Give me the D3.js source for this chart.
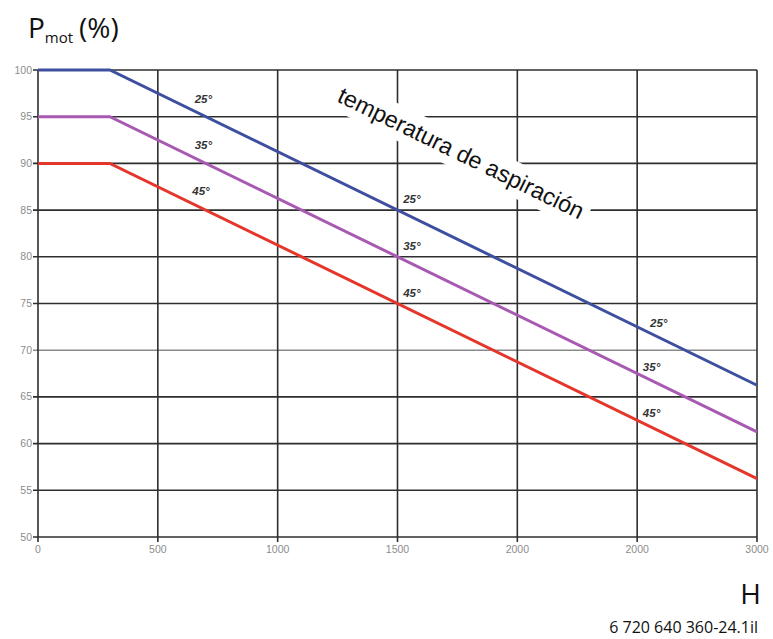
<!DOCTYPE html>
<html><head><meta charset="utf-8">
<script src="https://cdn.jsdelivr.net/npm/d3@7"></script>
<style>body{margin:0;background:#fff}svg{display:block}</style>
</head><body><svg id="c" width="773" height="639"></svg>
<script>
const altitudes = [0, 300, 3000];
const temp25 = [100, 100, 66.25];
const temp35 = [95, 95, 61.25];
const temp45 = [90, 90, 56.25];
const seriesNames = ["25°", "35°", "45°"];
const seriesColors = ["#3f4f9f", "#a85ab3", "#e5362b"];
const xTicks = [0, 500, 1000, 1500, 2000, 2500, 3000];
const xTickLabels = ["0", "500", "1000", "1500", "2000", "2000", "3000"];
const yTicks = [50, 55, 60, 65, 70, 75, 80, 85, 90, 95, 100];
const labelAltitudes = [[690, 1560, 2590], [690, 1560, 2560], [680, 1560, 2560]];

const svg = d3.select("#c");
const x = d3.scaleLinear().domain([0, 3000]).range([38, 757]);
const y = d3.scaleLinear().domain([50, 100]).range([537, 70]);

// grid
svg.append("g").selectAll("line").data(yTicks).join("line")
  .attr("x1", x(0) - 5).attr("x2", x(3000))
  .attr("y1", d => y(d)).attr("y2", d => y(d))
  .attr("stroke", d => d === 70 ? "#8a8a8a" : "#2e2e2e").attr("stroke-width", 1.6);
svg.append("g").selectAll("line").data(xTicks).join("line")
  .attr("x1", d => x(d)).attr("x2", d => x(d))
  .attr("y1", y(100)).attr("y2", y(50) + 5)
  .attr("stroke", "#2e2e2e").attr("stroke-width", 1.6);

// tick labels
svg.append("g").selectAll("text").data(yTicks).join("text")
  .attr("x", 32).attr("y", d => y(d) + 3.5).attr("text-anchor", "end")
  .attr("font-family", "Liberation Sans Narrow, Liberation Sans, sans-serif")
  .attr("font-size", 10.5).attr("fill", "#8c8c8c").text(d => d);
svg.append("g").selectAll("text").data(xTicks).join("text")
  .attr("x", d => x(d)).attr("y", 553).attr("text-anchor", "middle")
  .attr("font-family", "Liberation Sans Narrow, Liberation Sans, sans-serif")
  .attr("font-size", 10.5).attr("fill", "#8c8c8c").text((d, i) => xTickLabels[i]);

// rotated annotation
const ann = svg.append("g").attr("transform", "translate(336,101) rotate(26)");
const annRect = ann.append("rect").attr("fill", "#fff");

// lines
const all = [temp25, temp35, temp45];
const line = d3.line().x((d, i) => x(altitudes[i])).y(d => y(d));
all.forEach((vals, k) => {
  svg.append("path").datum(vals).attr("d", line)
    .attr("fill", "none").attr("stroke", seriesColors[k]).attr("stroke-width", 3);
});

const annText = ann.append("text").attr("x", 0).attr("y", 0)
  .attr("font-family", "Liberation Sans, Arial, sans-serif").attr("font-size", 23.3)
  .attr("fill", "#111").text("temperatura de aspiración");
const bb = annText.node().getBBox();
annRect.attr("x", bb.x - 8).attr("y", bb.y - 4).attr("width", bb.width + 14).attr("height", bb.height + 8);

// series labels
function valAt(vals, a) {
  return d3.scaleLinear().domain(altitudes).range(vals)(a);
}
const colOffset = [-13, -14, -10];
all.forEach((vals, k) => {
  labelAltitudes[k].forEach((a, j) => {
    svg.append("text").attr("x", x(a)).attr("y", y(valAt(vals, a)) + colOffset[j])
      .attr("text-anchor", "middle").attr("font-family", "Liberation Sans, Arial, sans-serif")
      .attr("font-size", 11.5).attr("font-style", "italic").attr("font-weight", "bold")
      .attr("fill", "#333").text(seriesNames[k]);
  });
});

// axis titles
const t = svg.append("text").attr("x", 28).attr("y", 38)
  .attr("font-family", "Open Sans, Noto Sans, sans-serif").attr("font-size", 28).attr("fill", "#111");
t.append("tspan").text("P");
t.append("tspan").attr("font-size", 15).attr("dy", 5).text("mot");
t.append("tspan").attr("dy", -5).attr("dx", 6).text("(%)");
svg.append("text").attr("x", 761).attr("y", 604).attr("text-anchor", "end")
  .attr("font-family", "Open Sans, Noto Sans, sans-serif").attr("font-size", 28).attr("fill", "#111").text("H");
svg.append("text").attr("x", 758).attr("y", 633).attr("text-anchor", "end")
  .attr("font-family", "Open Sans, Noto Sans, sans-serif").attr("font-size", 16).attr("fill", "#111").text("6 720 640 360-24.1il");
</script></body></html>
